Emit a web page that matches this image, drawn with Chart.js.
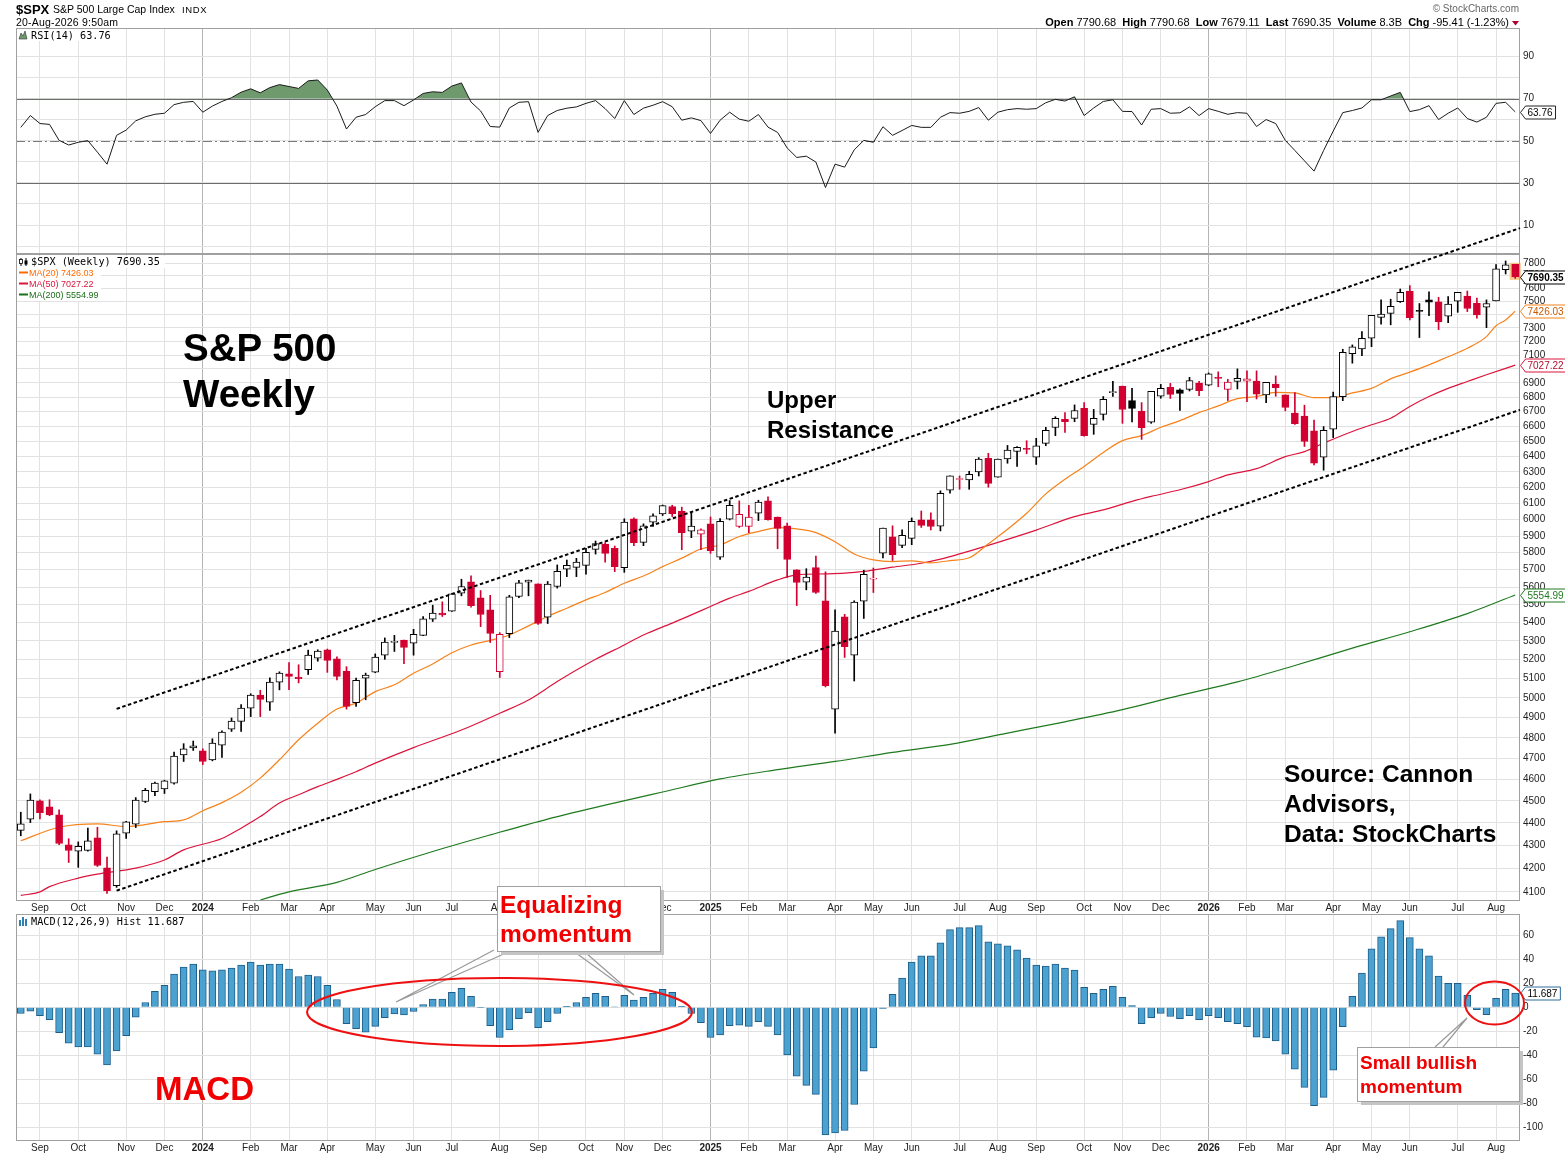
<!DOCTYPE html>
<html>
<head>
<meta charset="utf-8">
<title>S&amp;P 500 Weekly</title>
<script src="https://cdn.jsdelivr.net/npm/chart.js@4.4.1/dist/chart.umd.min.js"></script>
<style>
  body { margin: 0; background: #fff; }
  #page { position: relative; width: 1565px; height: 1157px; overflow: hidden; background: #fff; }
  #page canvas { position: absolute; left: 0; }
  #notes { position: absolute; left: 0; top: 0; pointer-events: none; }
  #notes text { font-family: "Liberation Sans", Arial, sans-serif; }
  #notes .mono { font-family: "DejaVu Sans Mono", monospace; }
  #notes .pre { white-space: pre; }
</style>
</head>
<body>
<div id="page">
  <canvas id="rsi" width="1565" height="262" style="top:0;width:1565px;height:262px"></canvas>
  <canvas id="price" width="1565" height="913" style="top:0;width:1565px;height:913px"></canvas>
  <canvas id="macd" width="1565" height="257" style="top:900px;width:1565px;height:257px"></canvas>

  <svg id="notes" width="1565" height="1157">
    <!-- header -->
    <text x="16" y="14" font-size="13" font-weight="bold">$SPX</text>
    <text x="53" y="13" font-size="10.5">S&amp;P 500 Large Cap Index</text>
    <text x="182" y="13" font-size="9.5" letter-spacing="0.6">INDX</text>
    <text x="16" y="25.5" font-size="10.5" letter-spacing="0.2">20-Aug-2026 9:50am</text>
    <text x="1519" y="12" font-size="10" fill="#666" text-anchor="end">© StockCharts.com</text>
    <text class="pre" x="1509" y="25.5" font-size="11" text-anchor="end"><tspan font-weight="bold">Open</tspan> 7790.68  <tspan font-weight="bold">High</tspan> 7790.68  <tspan font-weight="bold">Low</tspan> 7679.11  <tspan font-weight="bold">Last</tspan> 7690.35  <tspan font-weight="bold">Volume</tspan> 8.3B  <tspan font-weight="bold">Chg</tspan> -95.41 (-1.23%)</text>
    <path d="M1512 21 L1519 21 L1515.5 25.5 Z" fill="#b0002a"/>

    <!-- panel legends -->
    <rect x="17" y="29" width="95" height="12" fill="#fff"/>
    <path d="M19 39 L21 33 L23 36 L25 31 L27 39 Z" fill="#6e9a6e" stroke="#333" stroke-width="0.6"/>
    <text class="mono" x="31" y="38.5" font-size="10.2">RSI(14) 63.76</text>

    <rect x="17" y="256" width="148" height="12" fill="#fff"/>
    <rect x="17" y="268" width="84" height="33" fill="#fff"/>
    <line x1="21" y1="258" x2="21" y2="266" stroke="#000"/>
    <rect x="19.5" y="259.5" width="3" height="4" fill="#fff" stroke="#000" stroke-width="0.8"/>
    <line x1="26" y1="258" x2="26" y2="266" stroke="#000"/>
    <rect x="24.5" y="260.5" width="3" height="4" fill="#000"/>
    <text class="mono" x="31" y="265" font-size="10.2">$SPX (Weekly) 7690.35</text>
    <line x1="19" y1="272.5" x2="28" y2="272.5" stroke="#ff6a00" stroke-width="2"/>
    <text x="29" y="276" font-size="9" fill="#ff6a00">MA(20) 7426.03</text>
    <line x1="19" y1="283.5" x2="28" y2="283.5" stroke="#dc143c" stroke-width="2"/>
    <text x="29" y="287" font-size="9" fill="#dc143c">MA(50) 7027.22</text>
    <line x1="19" y1="294.5" x2="28" y2="294.5" stroke="#1a6e1a" stroke-width="2"/>
    <text x="29" y="298" font-size="9" fill="#1a6e1a">MA(200) 5554.99</text>

    <rect x="17" y="915" width="170" height="12" fill="#fff"/>
    <rect x="19" y="920" width="2" height="6" fill="#2f7fb5"/>
    <rect x="22" y="917" width="2" height="9" fill="#2f7fb5"/>
    <rect x="25" y="919" width="2" height="7" fill="#2f7fb5"/>
    <text class="mono" x="31" y="925" font-size="10.2">MACD(12,26,9) Hist 11.687</text>

    <!-- annotations -->
    <text x="183" y="361" font-size="38.5" font-weight="bold">S&amp;P 500</text>
    <text x="183" y="407" font-size="38.5" font-weight="bold">Weekly</text>
    <text x="767" y="408" font-size="24" font-weight="bold">Upper</text>
    <text x="767" y="438" font-size="24" font-weight="bold">Resistance</text>
    <text x="1284" y="782" font-size="24.5" font-weight="bold">Source: Cannon</text>
    <text x="1284" y="812" font-size="24.5" font-weight="bold">Advisors,</text>
    <text x="1284" y="842" font-size="24.5" font-weight="bold">Data: StockCharts</text>
    <text x="155" y="1100" font-size="33" font-weight="bold" fill="#f00000">MACD</text>

    <polyline points="494,950 396,1002 506,953" fill="none" stroke="#999" stroke-width="1.2"/>
    <polyline points="576,953 634,995 586,953" fill="none" stroke="#999" stroke-width="1.2"/>
    <ellipse cx="499.5" cy="1012" rx="192.5" ry="34" fill="none" stroke="#ee1010" stroke-width="2"/>
    <rect x="501" y="890" width="163" height="65" fill="#c4c4c4"/>
    <rect x="497.5" y="886.5" width="163" height="65" fill="#fff" stroke="#a0a0a0"/>
    <text x="500" y="913" font-size="24.5" font-weight="bold" fill="#f00000">Equalizing</text>
    <text x="500" y="942" font-size="24.5" font-weight="bold" fill="#f00000">momentum</text>

    <polyline points="1435,1047 1467,1018 1443,1047" fill="none" stroke="#999" stroke-width="1.2"/>
    <ellipse cx="1494.5" cy="1003" rx="29.5" ry="21.5" fill="none" stroke="#ee1010" stroke-width="2"/>
    <rect x="1361" y="1051" width="162" height="54" fill="#c4c4c4"/>
    <rect x="1357.5" y="1047.5" width="162" height="54" fill="#fff" stroke="#a0a0a0"/>
    <text x="1360" y="1069" font-size="19" font-weight="bold" fill="#f00000">Small bullish</text>
    <text x="1360" y="1093" font-size="19" font-weight="bold" fill="#f00000">momentum</text>
  </svg>
</div>

<script>
// weekly candles, Aug 21 2023 .. Aug 17 2026
var opens = [
  4366,4416,4500,4473,4436,4302,4274,4278,4333,4202,
  4126,4354,4394,4497,4543,4555,4582,4716,4750,4736,
  4692,4764,4842,4881,4948,5014,4978,5081,5125,5107,
  5146,5207,5252,5204,5139,4976,5102,5133,5223,5292,
  5304,5287,5330,5419,5453,5464,5565,5630,5538,5471,
  5136,5339,5546,5628,5619,5430,5603,5703,5714,5726,
  5820,5852,5826,5712,6005,5862,5985,6035,6081,6053,
  5929,5911,5974,5774,6002,5958,5958,6039,6116,6016,
  5962,5700,5628,5712,5522,4942,5432,5223,5520,5645,
  5797,5895,5844,5886,5998,5998,5960,6183,6251,6249,
  6300,6388,6266,6384,6433,6453,6395,6487,6594,6648,
  6655,6723,6614,6682,6832,6878,6777,6703,6628,6807,
  6869,6851,6855,6899,6885,6937,6855,6911,6912,6914,
  6816,6893,6816,6690,6671,6570,6395,6581,6804,7110,
  7144,7223,7379,7409,7499,7580,7433,7512,7497,7387,
  7502,7542,7486,7456,7504,7748,7790.68];
var highs = [
  4448,4532,4505,4505,4459,4329,4315,4376,4380,4249,
  4364,4407,4515,4558,4587,4596,4730,4771,4784,4746,
  4795,4834,4898,4966,5021,5039,5104,5135,5183,5172,
  5250,5252,5256,5214,5162,5102,5128,5230,5316,5330,
  5304,5363,5434,5497,5516,5561,5645,5665,5580,5553,
  5345,5553,5638,5640,5619,5632,5728,5757,5767,5826,
  5870,5860,5840,6005,6011,5974,6035,6090,6089,6077,
  6043,5943,6016,6006,6118,6116,6089,6120,6141,6016,
  5978,5700,5706,5780,5688,5471,5446,5522,5697,5710,
  5948,5962,5937,6010,6053,6041,6179,6274,6274,6304,
  6393,6421,6384,6473,6466,6504,6520,6594,6666,6694,
  6747,6763,6716,6805,6911,6878,6862,6763,6841,6890,
  6897,6858,6940,6911,6971,6979,6926,7000,6986,6986,
  6905,6950,6816,6832,6745,6643,6599,6836,7142,7174,
  7272,7394,7512,7517,7596,7622,7484,7575,7532,7537,
  7570,7580,7525,7512,7788,7817,7790.68];
var lows = [
  4342,4401,4418,4432,4303,4225,4204,4274,4208,4093,
  4119,4330,4379,4492,4524,4534,4578,4685,4738,4670,
  4688,4704,4831,4831,4905,4905,4936,5041,5042,5077,
  5121,5191,5132,5093,4943,4956,4990,5130,5201,5243,
  5178,5223,5328,5406,5434,5462,5550,5486,5378,5291,
  5105,5318,5540,5550,5390,5395,5594,5660,5660,5674,
  5792,5745,5689,5685,5842,5842,5958,6025,6019,5818,
  5890,5818,5797,5760,5998,5952,5921,5994,5996,5824,
  5655,5495,5584,5563,5056,4823,5211,5087,5423,5569,
  5770,5754,5830,5848,5952,5937,5931,6165,6189,6189,
  6274,6202,6266,6356,6335,6418,6348,6471,6538,6560,
  6632,6535,6547,6643,6805,6621,6630,6513,6621,6793,
  6791,6709,6844,6811,6880,6873,6777,6858,6770,6788,
  6763,6807,6706,6614,6466,6345,6311,6525,6776,7041,
  7095,7161,7328,7323,7492,7359,7228,7392,7287,7339,
  7417,7423,7372,7302,7504,7714,7679.11];
var closes = [
  4395,4503,4446,4436,4308,4277,4296,4320,4212,4105,
  4351,4404,4503,4549,4583,4593,4711,4746,4761,4685,
  4774,4828,4883,4948,5014,4992,5081,5128,5111,5099,
  5223,5245,5195,5111,4956,5091,5118,5213,5293,5297,
  5264,5336,5421,5453,5443,5561,5603,5494,5445,5340,
  5336,5544,5624,5640,5395,5617,5691,5726,5745,5802,
  5854,5796,5718,5985,5860,5962,6023,6086,6037,5921,
  5960,5937,5813,5990,6089,6033,6015,6108,6000,5946,
  5760,5626,5657,5569,5063,5353,5269,5515,5674,5652,
  5948,5789,5905,5990,5964,5958,6164,6274,6257,6285,
  6384,6227,6384,6442,6460,6446,6471,6574,6655,6632,
  6707,6538,6655,6786,6837,6715,6723,6592,6841,6862,
  6820,6827,6916,6846,6964,6933,6906,6933,6929,6821,
  6905,6867,6729,6619,6499,6356,6574,6804,7120,7159,
  7223,7394,7404,7463,7570,7377,7423,7494,7346,7479,
  7570,7446,7397,7484,7754,7786,7690.35];

// moving averages: [candle number, value]
var ma20 = [[1,4320],[5,4380],[9,4395],[12,4383],[16,4405],[18,4413],[20,4455],[22,4492],[24,4540],
  [26,4606],[28,4693],[30,4790],[32,4872],[34,4943],[36,4973],[38,5032],[40,5067],[42,5127],[44,5176],
  [46,5236],[48,5278],[50,5303],[52,5332],[54,5382],[56,5434],[58,5480],[60,5527],[62,5569],[64,5622],
  [66,5664],[68,5718],[70,5768],[72,5822],[74,5846],[76,5897],[78,5927],[80,5951],[82,5943],[84,5921],
  [86,5866],[88,5793],[90,5758],[92,5748],[94,5752],[96,5740],[98,5754],[100,5770],[102,5853],[104,5941],
  [106,6039],[108,6160],[110,6253],[112,6335],[114,6427],[116,6505],[118,6538],[120,6594],[122,6639],
  [124,6694],[126,6740],[128,6790],[130,6805],[132,6834],[134,6830],[136,6797],[138,6797],[140,6830],
  [142,6862],[144,6929],[146,6977],[148,7029],[150,7088],[152,7149],[154,7235],[155,7316],[156,7359],
  [157,7426.03]];
var ma50 = [[1,4085],[3,4100],[4,4122],[7,4158],[9,4175],[13,4201],[16,4236],[18,4280],[22,4330],
  [24,4376],[26,4428],[28,4490],[30,4528],[32,4566],[34,4600],[36,4636],[38,4677],[42,4752],[47,4838],
  [51,4922],[54,4989],[57,5084],[61,5201],[64,5278],[66,5332],[69,5397],[71,5443],[73,5490],[75,5537],
  [77,5575],[80,5641],[82,5670],[85,5676],[87,5680],[89,5690],[92,5715],[95,5738],[97,5762],[99,5793],
  [103,5862],[107,5936],[111,6018],[114,6060],[117,6113],[119,6144],[122,6186],[125,6238],[127,6281],
  [130,6321],[133,6399],[135,6432],[137,6488],[140,6566],[142,6611],[144,6655],[146,6736],[148,6805],
  [150,6862],[152,6910],[154,6958],[157,7027.22]];
var ma200 = [[26,4066],[29,4100],[34,4140],[38,4195],[44,4273],[50,4346],[56,4417],[62,4480],[68,4541],
  [74,4602],[80,4646],[86,4685],[92,4729],[98,4768],[104,4823],[110,4879],[116,4940],[122,5013],
  [128,5082],[134,5168],[140,5261],[146,5350],[152,5450],[157,5554.99]];

// dotted channel lines: [candle number, price]
var upperTrend = [[11, 4944], [157.5, 8084]];
var lowerTrend = [[11, 4105], [157.5, 6713]];

var rsi14 = [
  56.4,62,58.2,57.8,50.2,48,49.3,50.1,44.6,38.9,
  52.6,55.1,59.5,61.4,62.6,63.1,67.2,68.3,68.7,63.6,
  66.5,68.7,70.5,73.1,74.7,72.8,75.3,76.7,75.8,74.9,
  78.5,78.9,74.1,66.5,55.6,61.2,62.5,66.2,69.1,69.1,
  66.7,69.4,72.5,73.3,73,76,77.5,68.4,64.2,56.8,
  56.5,65.6,68.3,68.6,54,62,64.4,65.5,66.1,67.8,
  69.1,65.3,60.6,69.1,62.5,65.5,66.9,68.6,66.2,59.8,
  60.9,59.6,53.5,59.8,63.6,60.3,59.3,62.5,56.5,54,
  46.6,42.1,42.7,39.9,27.8,38.9,37.5,45.7,50.2,49.3,
  56.7,52.6,54.9,57.3,56.4,56.4,61.2,63.4,63.1,64,
  65.8,59.8,63.6,64.8,65.3,65,65.3,68.1,69.7,68.9,
  70.9,62,65.6,68.7,69.5,64,63.9,57.5,65,65.3,
  63.1,63.3,66.1,62,65.3,64,62.6,63.4,63.1,56.8,
  60.1,58.2,50.2,45.4,40.5,35.6,45.4,54.6,63.4,64.4,
  65.6,69.5,69.5,71.3,73,63.9,64.8,66.7,60.1,63.1,
  65.6,60.6,58.9,61.2,67.8,68.3,63.76];
var macdHist = [
  -5.3,-3.4,-7,-10.4,-21.3,-30,-33.1,-33.1,-39,-48,
  -36.4,-23.8,-8.4,3.9,13.2,18.2,27.5,33.4,35.9,31.1,
  30.3,31.1,32.5,35,37.6,35,35.9,35.9,31.7,25.5,
  26.6,25.5,18.2,6.4,-13.7,-17.9,-20.7,-16,-8.7,-5.6,
  -6.4,-3.6,2.2,6.7,6.7,12.3,15.7,9,-0.3,-15.4,
  -25.2,-18.8,-9.5,-4.5,-17.1,-12.1,-5.3,0.6,3.9,8.1,
  11.5,9,0.3,9.8,5.9,8.1,11.5,14.9,12.3,0.6,
  -5.3,-12.9,-25.2,-23,-15.4,-14.9,-16,-12.1,-16,-23,
  -39.8,-57.5,-65,-72.6,-106.3,-104.6,-102.6,-81,-53.3,-33.9,
  -1.1,10.7,24.1,37.6,42.6,42.6,53.5,64.5,66.2,66.2,
  67.8,54.4,52.7,51,47.7,40.9,35,34.2,35.9,32.5,
  30.8,16.5,11.5,14.9,17.4,8.1,1.4,-13.7,-8.7,-5.3,
  -7.8,-9.5,-7,-10.4,-7,-8.7,-12.1,-13.7,-16.3,-25,
  -25.5,-28,-39,-51.6,-66.7,-81.9,-75.1,-52.4,-16.3,9,
  28.3,48.5,58.6,65.3,72,57.8,48.5,42.6,25.8,19.9,
  19.9,9.8,-2,-6.2,7.3,14.9,11.687];

var rsiTicks = [0, 10, 20, 30, 40, 50, 60, 70, 80, 90];
var rsiShown = [10, 30, 50, 70, 90];
var macdTicks = [-100, -80, -60, -40, -20, 0, 20, 40, 60];
var priceTicks = [];
for (var v = 4100; v <= 7800; v += 100) priceTicks.push(v);

var FONT = '"Liberation Sans", Arial, sans-serif';
var RED = '#d20030';
var n = closes.length;

// week labels and month ticks
var weeks = [];
var start = Date.UTC(2023, 7, 21);
for (var k = 0; k < n; k++) weeks.push(new Date(start + k * 7 * 864e5).toISOString().slice(0, 10));
var monNames = ['Jan','Feb','Mar','Apr','May','Jun','Jul','Aug','Sep','Oct','Nov','Dec'];
var monthIdx = [], tickText = {}, yearIdx = {};
weeks.forEach(function (w, k) {
  if (k === 0) return;
  var m = +w.slice(5, 7);
  if (m !== +weeks[k - 1].slice(5, 7)) {
    monthIdx.push(k);
    if (m === 1) { tickText[k] = w.slice(0, 4); yearIdx[k] = true; }
    else tickText[k] = monNames[m - 1];
  }
});

// candle colours, stockcharts style
var bodyFill = [], bodyLine = [], wickCol = [], wicks = [], bodies = [];
closes.forEach(function (c, k) {
  var o = opens[k];
  var prev = k ? closes[k - 1] : o;
  var col = c < prev ? RED : '#000';
  bodyFill.push(c >= o ? '#fff' : col);
  bodyLine.push(col);
  wickCol.push(col);
  wicks.push([lows[k], highs[k]]);
  bodies.push([Math.min(o, c), Math.max(o, c)]);
});

function pts(arr) {
  return arr.map(function (p) { return { x: weeks[p[0] - 1], y: p[1] }; });
}

function timeAxis(showLabels, h) {
  return {
    type: 'category',
    offset: true,
    afterBuildTicks: function (s) { s.ticks = monthIdx.map(function (i) { return { value: i }; }); },
    afterFit: function (s) { s.height = h; },
    grid: {
      offset: false, drawTicks: false,
      color: function (c) { return c.tick && yearIdx[c.tick.value] ? '#b4b4b4' : '#e2e2e2'; }
    },
    border: { display: false },
    ticks: {
      display: showLabels, autoSkip: false, maxRotation: 0, minRotation: 0, padding: 2, color: '#222',
      font: function (c) {
        return { family: FONT, size: 10, weight: c.tick && yearIdx[c.tick.value] ? 'bold' : 'normal' };
      },
      callback: function (val) { return tickText[val] || ''; }
    }
  };
}

function valueAxis(extra, ticks, shown) {
  var ax = {
    position: 'right',
    afterFit: function (s) { s.width = 45; },
    afterBuildTicks: function (s) { s.ticks = ticks.map(function (t) { return { value: t }; }); },
    grid: { color: '#e2e2e2', drawTicks: false },
    border: { display: false },
    ticks: {
      padding: 3, color: '#222', font: { family: FONT, size: 10 },
      callback: function (val) { return shown.indexOf(val) >= 0 ? String(val) : ''; }
    }
  };
  return Object.assign(ax, extra);
}

function frameOf(chart) {
  var ctx = chart.ctx, a = chart.chartArea;
  ctx.save();
  ctx.strokeStyle = '#a0a0a0';
  ctx.lineWidth = 1;
  ctx.strokeRect(Math.round(a.left) + 0.5, Math.round(a.top) + 0.5,
    Math.round(a.right - a.left) - 1, Math.round(a.bottom - a.top));
  ctx.restore();
}

function drawTag(chart, value, text, stroke, textCol, bold) {
  var ctx = chart.ctx;
  var y = Math.round(chart.scales.y.getPixelForValue(value)) + 0.5;
  var x = Math.round(chart.chartArea.right) + 0.5;
  ctx.save();
  ctx.font = (bold ? 'bold ' : '') + '10px ' + FONT;
  var w = ctx.measureText(text).width + 4;
  ctx.beginPath();
  ctx.moveTo(x, y);
  ctx.lineTo(x + 5, y - 6.5);
  ctx.lineTo(x + 6 + w, y - 6.5);
  ctx.lineTo(x + 6 + w, y + 6.5);
  ctx.lineTo(x + 5, y + 6.5);
  ctx.closePath();
  ctx.fillStyle = '#fff';
  ctx.fill();
  ctx.strokeStyle = stroke;
  ctx.lineWidth = 1;
  ctx.stroke();
  ctx.fillStyle = textCol;
  ctx.textBaseline = 'middle';
  ctx.fillText(text, x + 7, y + 0.5);
  ctx.restore();
}

var common = {
  responsive: false,
  animation: false,
  events: [],
  plugins: { legend: { display: false }, tooltip: { enabled: false } }
};

// ---- RSI panel
new Chart(document.getElementById('rsi'), {
  type: 'line',
  data: {
    labels: weeks,
    datasets: [{
      data: rsi14,
      borderColor: '#1a1a1a',
      borderWidth: 1,
      pointRadius: 0,
      tension: 0,
      fill: { target: { value: 70 }, above: '#6f9a6e', below: 'rgba(0,0,0,0)' }
    }]
  },
  options: Object.assign({}, common, {
    layout: { padding: { top: 28, left: 16, right: 0, bottom: 0 } },
    scales: {
      x: timeAxis(false, 8),
      y: valueAxis({ min: -3.3, max: 103.6 }, rsiTicks, rsiShown)
    }
  }),
  plugins: [{
    id: 'rsiLines',
    beforeDatasetsDraw: function (chart) {
      var ctx = chart.ctx, a = chart.chartArea, ys = chart.scales.y;
      ctx.save();
      [70, 30].forEach(function (lv) {
        var y = Math.round(ys.getPixelForValue(lv)) + 0.5;
        ctx.strokeStyle = '#6c6c6c';
        ctx.beginPath(); ctx.moveTo(a.left, y); ctx.lineTo(a.right, y); ctx.stroke();
      });
      var y50 = Math.round(ys.getPixelForValue(50)) + 0.5;
      ctx.strokeStyle = '#7a7a7a';
      ctx.setLineDash([9, 3, 2, 3]);
      ctx.beginPath(); ctx.moveTo(a.left, y50); ctx.lineTo(a.right, y50); ctx.stroke();
      ctx.restore();
    },
    afterDatasetsDraw: frameOf,
    afterDraw: function (chart) { drawTag(chart, rsi14[n - 1], String(rsi14[n - 1]), '#222', '#000', false); }
  }]
});

// ---- price panel
new Chart(document.getElementById('price'), {
  type: 'bar',
  data: {
    labels: weeks,
    datasets: [
      { type: 'line', data: pts(ma200), borderColor: '#1f7a1f', borderWidth: 1.2, pointRadius: 0,
        cubicInterpolationMode: 'monotone', order: 6 },
      { type: 'line', data: pts(ma50), borderColor: '#dc143c', borderWidth: 1.2, pointRadius: 0,
        cubicInterpolationMode: 'monotone', order: 5 },
      { type: 'line', data: pts(ma20), borderColor: '#f7821b', borderWidth: 1.2, pointRadius: 0,
        cubicInterpolationMode: 'monotone', order: 4 },
      { data: wicks, backgroundColor: wickCol, borderWidth: 0, barThickness: 1, grouped: false, order: 2 },
      { data: bodies, backgroundColor: bodyFill, borderColor: bodyLine, borderWidth: 1,
        borderSkipped: false, barThickness: 7, minBarLength: 1, grouped: false, order: 1 }
    ]
  },
  options: Object.assign({}, common, {
    layout: { padding: { top: 254, left: 16, right: 0, bottom: 0 } },
    scales: {
      x: timeAxis(true, 13),
      y: valueAxis({ type: 'logarithmic', min: 4066, max: 7873 }, priceTicks, priceTicks)
    }
  }),
  plugins: [{
    id: 'priceExtras',
    beforeDatasetsDraw: function (chart) {
      var ctx = chart.ctx, xs = chart.scales.x, ys = chart.scales.y;
      var cx = xs.getPixelForValue(n - 1);
      var top = ys.getPixelForValue(highs[n - 1]), bot = ys.getPixelForValue(lows[n - 1]);
      ctx.save();
      ctx.fillStyle = '#f8c98a';
      ctx.fillRect(cx - 5.5, top - 1.5, 11, bot - top + 3);
      ctx.restore();
    },
    afterDatasetsDraw: function (chart) {
      frameOf(chart);
      var ctx = chart.ctx, xs = chart.scales.x, ys = chart.scales.y;
      ctx.save();
      ctx.strokeStyle = '#000';
      ctx.lineWidth = 2;
      ctx.setLineDash([3.5, 2.5]);
      [upperTrend, lowerTrend].forEach(function (t) {
        ctx.beginPath();
        ctx.moveTo(xs.getPixelForValue(t[0][0] - 1), ys.getPixelForValue(t[0][1]));
        ctx.lineTo(xs.getPixelForValue(t[1][0] - 1), ys.getPixelForValue(t[1][1]));
        ctx.stroke();
      });
      ctx.restore();
    },
    afterDraw: function (chart) {
      drawTag(chart, ma200[ma200.length - 1][1], '5554.99', '#1f7a1f', '#1f7a1f', false);
      drawTag(chart, ma50[ma50.length - 1][1], '7027.22', '#dc143c', '#b0102e', false);
      drawTag(chart, ma20[ma20.length - 1][1], '7426.03', '#f7821b', '#c85a00', false);
      drawTag(chart, closes[n - 1], '7690.35', '#000', '#000', true);
    }
  }]
});

// ---- MACD histogram panel
new Chart(document.getElementById('macd'), {
  type: 'bar',
  data: {
    labels: weeks,
    datasets: [{
      data: macdHist,
      backgroundColor: '#4ba2d1',
      borderColor: '#1d5d88',
      borderWidth: 1,
      barThickness: 7
    }]
  },
  options: Object.assign({}, common, {
    layout: { padding: { top: 14, left: 16, right: 0, bottom: 0 } },
    scales: {
      x: timeAxis(true, 17),
      y: valueAxis({ min: -110.5, max: 77.5 }, macdTicks, macdTicks)
    }
  }),
  plugins: [{
    id: 'macdExtras',
    afterDatasetsDraw: frameOf,
    afterDraw: function (chart) { drawTag(chart, macdHist[n - 1], '11.687', '#2d6e9a', '#000', false); }
  }]
});
</script>
</body>
</html>
